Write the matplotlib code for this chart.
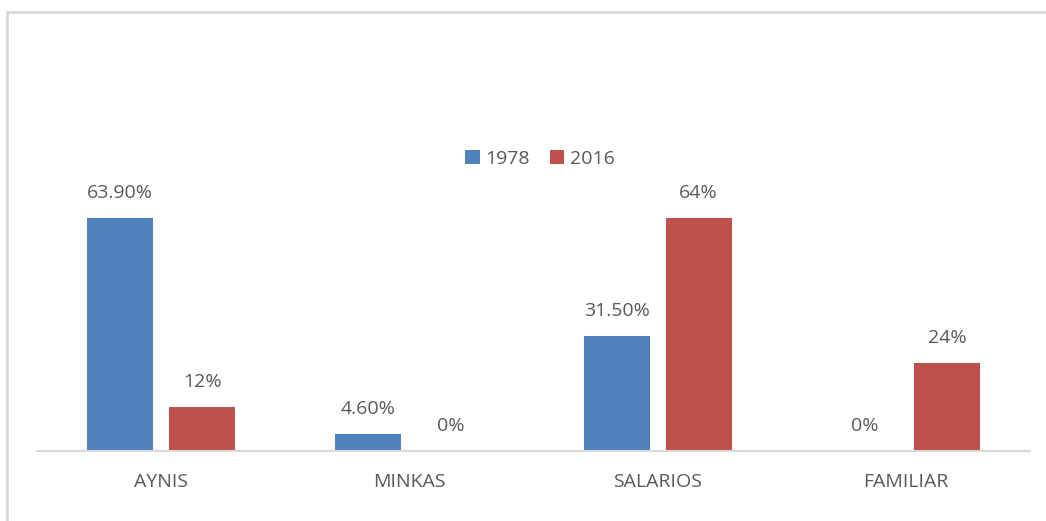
import matplotlib.pyplot as plt
from matplotlib.lines import Line2D
import numpy as np

categorias = ["AYNIS", "MINKAS", "SALARIOS", "FAMILIAR"]
valores_1978 = [63.9, 4.6, 31.5, 0.0]
valores_2016 = [12, 0, 64, 24]
etiquetas_1978 = ["63.90%", "4.60%", "31.50%", "0%"]
etiquetas_2016 = ["12%", "0%", "64%", "24%"]

plt.rcParams['font.family'] = ['Open Sans', 'DejaVu Sans']
W, H = 1046, 521
fig = plt.figure(figsize=(W / 100, H / 100), dpi=100)

# chart frame (only top and left edge visible in the crop)
fig.add_artist(Line2D([7 / W, 1], [1 - 12 / H, 1 - 12 / H], color='#d9d9d9', lw=2))
fig.add_artist(Line2D([7 / W, 7 / W], [0, 1 - 12 / H], color='#d9d9d9', lw=2))

ymax = 70
px_per_unit = 233 / 63.9
ax = fig.add_axes([37 / W, (H - 451) / H, (1030 - 37) / W, ymax * px_per_unit / H])

x = np.arange(len(categorias))
ancho = 0.266
desp = 0.165
b1 = ax.bar(x - desp, valores_1978, ancho, color='#4F81BD', label='1978')
b2 = ax.bar(x + desp, valores_2016, ancho, color='#C0504D', label='2016')

fs = 14
for barras, etqs in ((b1, etiquetas_1978), (b2, etiquetas_2016)):
    for b, t in zip(barras, etqs):
        ax.annotate(t, (b.get_x() + b.get_width() / 2, b.get_height()),
                    xytext=(0, 18), textcoords='offset points',
                    ha='center', va='center', fontsize=fs, color='#595959')

ax.set_xlim(-0.5, 3.5)
ax.set_ylim(0, ymax)
ax.set_xticks(x)
ax.set_xticklabels(categorias, fontsize=fs, color='#595959')
ax.tick_params(axis='x', length=0, pad=16)
ax.set_yticks([])
for s in ['top', 'left', 'right']:
    ax.spines[s].set_visible(False)
ax.spines['bottom'].set_color('#d9d9d9')
ax.spines['bottom'].set_linewidth(1.5)

fig.legend(handles=[b1, b2], loc='center', bbox_to_anchor=(540 / W, 1 - 159 / H),
           ncol=2, frameon=False, fontsize=fs, handlelength=0.75, handleheight=0.75,
           handletextpad=0.3, columnspacing=1.0, labelcolor='#595959')

fig.savefig('out.png', dpi=100)
